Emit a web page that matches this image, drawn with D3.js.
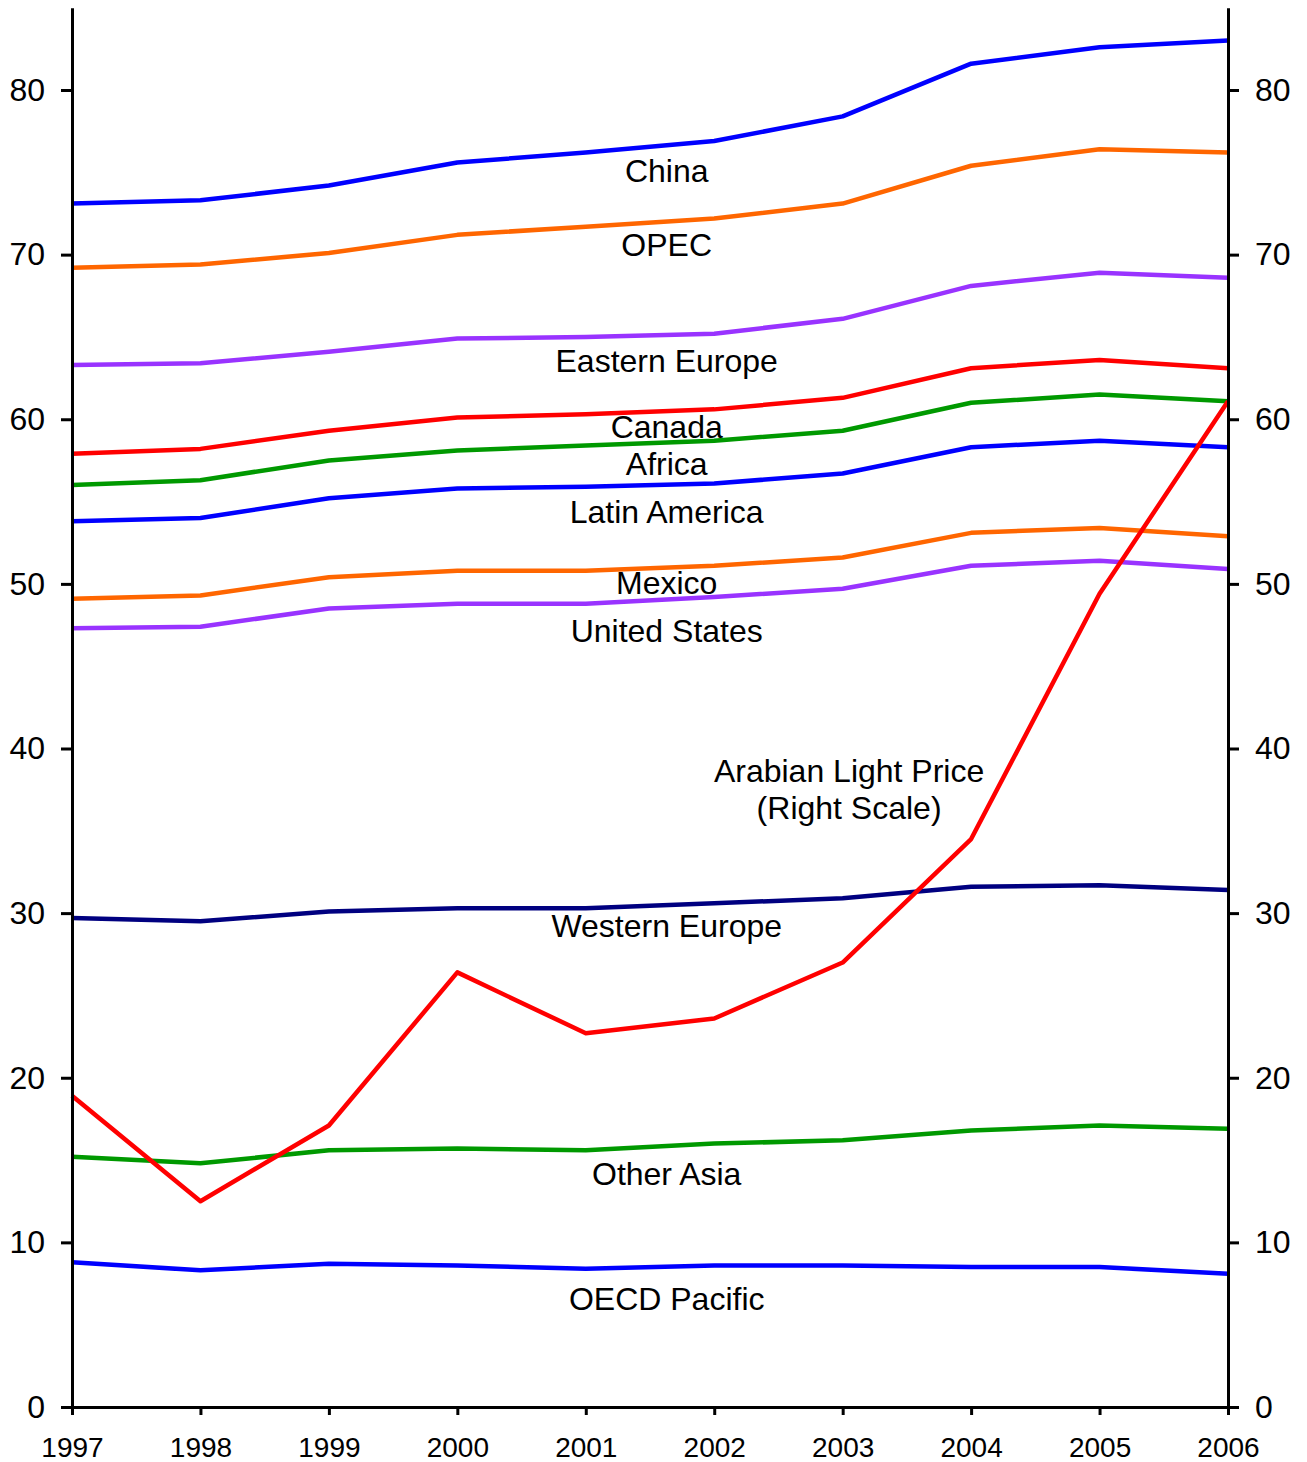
<!DOCTYPE html>
<html>
<head>
<meta charset="utf-8">
<script src="https://cdn.jsdelivr.net/npm/d3@7"></script>
<style>
  body { margin: 0; background: #fff; }
  svg { display: block; }
  text { font-family: "Liberation Sans", Arial, sans-serif; fill: #000; }
</style>
</head>
<body>
<div id="chart"></div>
<script>
// ---- Data ----
const years = [1997, 1998, 1999, 2000, 2001, 2002, 2003, 2004, 2005, 2006];
const yTicks = [0, 10, 20, 30, 40, 50, 60, 70, 80];

const china         = [73.1, 73.3, 74.2, 75.6, 76.2, 76.9, 78.4, 81.6, 82.6, 83.0];
const opec          = [69.2, 69.4, 70.1, 71.2, 71.7, 72.2, 73.1, 75.4, 76.4, 76.2];
const easternEurope = [63.3, 63.4, 64.1, 64.9, 65.0, 65.2, 66.1, 68.1, 68.9, 68.6];
const canada        = [57.9, 58.2, 59.3, 60.1, 60.3, 60.6, 61.3, 63.1, 63.6, 63.1];
const africa        = [56.0, 56.3, 57.5, 58.1, 58.4, 58.7, 59.3, 61.0, 61.5, 61.1];
const latinAmerica  = [53.8, 54.0, 55.2, 55.8, 55.9, 56.1, 56.7, 58.3, 58.7, 58.3];
const mexico        = [49.1, 49.3, 50.4, 50.8, 50.8, 51.1, 51.6, 53.1, 53.4, 52.9];
const unitedStates  = [47.3, 47.4, 48.5, 48.8, 48.8, 49.2, 49.7, 51.1, 51.4, 50.9];
const westernEurope = [29.7, 29.5, 30.1, 30.3, 30.3, 30.6, 30.9, 31.6, 31.7, 31.4];
const otherAsia     = [15.2, 14.8, 15.6, 15.7, 15.6, 16.0, 16.2, 16.8, 17.1, 16.9];
const oecdPacific   = [8.8, 8.3, 8.7, 8.6, 8.4, 8.6, 8.6, 8.5, 8.5, 8.1];
const arabianLight  = [18.9, 12.5, 17.1, 26.4, 22.7, 23.6, 27.0, 34.5, 49.4, 61.1]; // right scale

const seriesNames = ["China", "OPEC", "Eastern Europe", "Canada", "Africa", "Latin America",
  "Mexico", "United States", "Western Europe", "Other Asia", "OECD Pacific", "Arabian Light Price"];
const seriesValues = [china, opec, easternEurope, canada, africa, latinAmerica,
  mexico, unitedStates, westernEurope, otherAsia, oecdPacific, arabianLight];
const seriesAxis = ["left","left","left","left","left","left","left","left","left","left","left","right"];

// ---- Styles / layout ----
const seriesColors = ["#0000FF", "#FF6600", "#9933FF", "#FF0000", "#009900", "#0000FF",
  "#FF6600", "#9933FF", "#000080", "#009900", "#0000FF", "#FF0000"];

// label anchors in data coordinates (year, value at text baseline)
const labelAnchors = [
  {lines: ["China"], x: 2001.63, y: 74.43},
  {lines: ["OPEC"], x: 2001.63, y: 69.92},
  {lines: ["Eastern Europe"], x: 2001.63, y: 62.89},
  {lines: ["Canada"], x: 2001.63, y: 58.86},
  {lines: ["Africa"], x: 2001.63, y: 56.61},
  {lines: ["Latin America"], x: 2001.63, y: 53.70},
  {lines: ["Mexico"], x: 2001.63, y: 49.39},
  {lines: ["United States"], x: 2001.63, y: 46.48},
  {lines: ["Arabian Light Price", "(Right Scale)"], x: 2003.05, y: 37.97},
  {lines: ["Western Europe"], x: 2001.63, y: 28.55},
  {lines: ["Other Asia"], x: 2001.63, y: 13.49},
  {lines: ["OECD Pacific"], x: 2001.63, y: 5.89}
];

const W = 1307, H = 1462;
const margin = {top: 8, right: 79, bottom: 55, left: 72};

const svg = d3.select("#chart").append("svg")
  .attr("width", W).attr("height", H);

const x = d3.scaleLinear().domain([1997, 2006]).range([margin.left, W - margin.right]);
const yL = d3.scaleLinear().domain([0, 85]).range([1407, 1407 - 85 * 16.4625]);
const yR = d3.scaleLinear().domain([0, 85]).range([1407, 1407 - 85 * 16.4625]);

// Lines
const lineGen = (yScale) => d3.line().x((d, i) => x(years[i])).y(d => yScale(d));
seriesValues.forEach((vals, k) => {
  svg.append("path")
    .datum(vals)
    .attr("fill", "none")
    .attr("stroke", seriesColors[k])
    .attr("stroke-width", 4.5)
    .attr("stroke-linejoin", "round")
    .attr("d", lineGen(seriesAxis[k] === "right" ? yR : yL)(vals));
});

// Axes
const axisStyle = g => {
  g.attr("font-size", null);
  g.select(".domain").attr("stroke", "#000").attr("stroke-width", 3).attr("fill", "none");
  g.selectAll(".tick line").attr("stroke", "#000").attr("stroke-width", 3);
};

const gL = svg.append("g").attr("transform", `translate(${margin.left},0)`)
  .call(d3.axisLeft(yL).tickValues(yTicks).tickSize(11).tickSizeOuter(0).tickPadding(16));
axisStyle(gL);
gL.selectAll(".tick text").style("font-size", "32px");

const gR = svg.append("g").attr("transform", `translate(${W - margin.right},0)`)
  .call(d3.axisRight(yR).tickValues(yTicks).tickSize(11).tickSizeOuter(0).tickPadding(16));
axisStyle(gR);
gR.selectAll(".tick text").style("font-size", "32px");

const gX = svg.append("g").attr("transform", `translate(0,${yL(0)})`)
  .call(d3.axisBottom(x).tickValues(years).tickFormat(d3.format("d")).tickSize(8).tickSizeOuter(0).tickPadding(22));
axisStyle(gX);
gX.selectAll(".tick text").style("font-size", "28px");

// Labels
labelAnchors.forEach(a => {
  const t = svg.append("text")
    .attr("x", x(a.x))
    .attr("y", yL(a.y))
    .attr("text-anchor", "middle")
    .style("font-size", "32px");
  a.lines.forEach((ln, i) => {
    t.append("tspan").attr("x", x(a.x)).attr("dy", i === 0 ? 0 : 37).text(ln);
  });
});
</script>
</body>
</html>
